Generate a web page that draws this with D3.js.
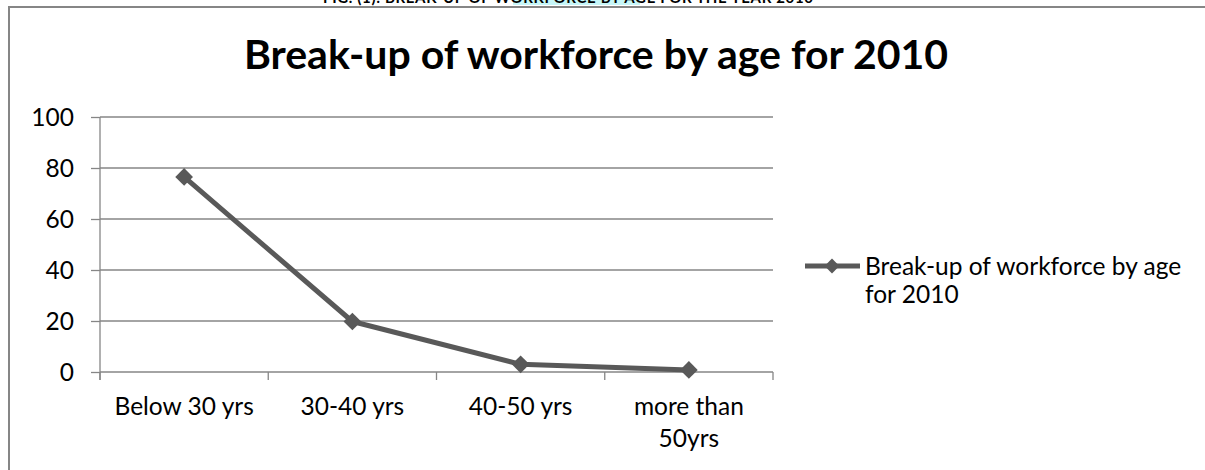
<!doctype html>
<html lang="en">
<head>
    <meta charset="utf-8">
    <title>Break-up of workforce by age for 2010</title>
    <script src="https://cdn.jsdelivr.net/npm/d3@7"></script>
    <style>
        body { margin: 0; background: #fff; }
        svg { display: block; font-family: Lato, "Open Sans", sans-serif; }
    </style>
</head>
<body>
    <svg></svg>
    <script>
        var width = 1205;
        var height = 470;

        // data
        var categories = ["Below 30 yrs", "30-40 yrs", "40-50 yrs", "more than 50yrs"];
        var categoryLines = [["Below 30 yrs"], ["30-40 yrs"], ["40-50 yrs"], ["more than", "50yrs"]];
        var values = [76.5, 19.8, 3, 0.8];
        var yTicks = [0, 20, 40, 60, 80, 100];
        var seriesName = "Break-up of workforce by age for 2010";
        var legendLines = ["Break-up of workforce by age", "for 2010"];

        var svg = d3.select("svg").attr("width", width).attr("height", height);

        // caption of the figure, mostly cut off above the picture
        svg.append("rect")
            .attr("x", 513).attr("y", -10)
            .attr("width", 127).attr("height", 15)
            .attr("fill", "#c6f6f8");
        svg.append("text")
            .attr("x", 323).attr("y", 3)
            .attr("font-size", "15px")
            .attr("font-weight", "bold")
            .attr("textLength", 490)
            .text("FIG. (1): BREAK-UP OF WORKFORCE BY AGE FOR THE YEAR 2010");

        // chart frame
        svg.append("rect")
            .attr("x", 9).attr("y", 7)
            .attr("width", 1300).attr("height", 600)
            .attr("fill", "none")
            .attr("stroke", "#868686")
            .attr("stroke-width", 2);

        svg.append("text")
            .attr("x", 596).attr("y", 69)
            .attr("text-anchor", "middle")
            .attr("font-size", "41px")
            .attr("font-weight", "bold")
            .text(seriesName);

        var xScale = d3.scaleBand().domain(categories).range([100, 773]);
        var yScale = d3.scaleLinear().domain([0, 100]).range([372, 117]);

        // gridlines
        svg.selectAll(".grid")
            .data(yTicks)
            .enter()
            .append("line")
            .attr("x1", 100).attr("x2", 773)
            .attr("y1", function (d) { return yScale(d); })
            .attr("y2", function (d) { return yScale(d); })
            .attr("stroke", "#868686")
            .attr("stroke-width", 1.3);

        // y axis
        var yAxis = d3.axisLeft(yScale).tickValues(yTicks).tickSize(9).tickPadding(17);
        var gy = svg.append("g").attr("transform", "translate(100,0)").call(yAxis);
        gy.select(".domain").remove();
        gy.append("line").attr("x1", 0).attr("x2", 0).attr("y1", 117).attr("y2", 380)
            .attr("stroke", "#868686").attr("stroke-width", 1.3);
        gy.selectAll(".tick line").attr("stroke", "#868686").attr("stroke-width", 1.3);
        gy.selectAll(".tick text")
            .attr("font-family", "Lato, sans-serif")
            .attr("font-size", "24.5px")
            .attr("fill", "#000")
            .attr("dy", "0.36em");

        // x axis ticks at band edges
        var edges = categories.map(function (c) { return xScale(c); }).concat([xScale.range()[1]]);
        svg.selectAll(".xtick")
            .data(edges)
            .enter()
            .append("line")
            .attr("x1", function (d) { return d; })
            .attr("x2", function (d) { return d; })
            .attr("y1", 372).attr("y2", 380)
            .attr("stroke", "#868686").attr("stroke-width", 1.3);

        var labels = svg.selectAll(".xlabel")
            .data(categories)
            .enter()
            .append("text")
            .attr("text-anchor", "middle")
            .attr("font-size", "24.5px")
            .attr("x", function (d) { return xScale(d) + xScale.bandwidth() / 2; })
            .attr("y", 415);
        labels.each(function (d, i) {
            var t = d3.select(this);
            categoryLines[i].forEach(function (line, j) {
                t.append("tspan")
                    .attr("x", xScale(d) + xScale.bandwidth() / 2)
                    .attr("dy", j === 0 ? 0 : 32)
                    .text(line);
            });
        });

        // series line
        var line = d3.line()
            .x(function (d, i) { return xScale(categories[i]) + xScale.bandwidth() / 2; })
            .y(function (d) { return yScale(d); });

        svg.append("path")
            .datum(values)
            .attr("d", line)
            .attr("fill", "none")
            .attr("stroke", "#595959")
            .attr("stroke-width", 5)
            .attr("stroke-linejoin", "round");

        var diamond = d3.symbol().type(d3.symbolDiamond2).size(200);
        svg.selectAll(".marker")
            .data(values)
            .enter()
            .append("path")
            .attr("d", diamond)
            .attr("transform", function (d, i) {
                return "translate(" + (xScale(categories[i]) + xScale.bandwidth() / 2) + "," + yScale(d) + ")";
            })
            .attr("fill", "#595959");

        // legend
        var legend = svg.append("g");
        legend.append("line")
            .attr("x1", 805).attr("x2", 860)
            .attr("y1", 266).attr("y2", 266)
            .attr("stroke", "#595959").attr("stroke-width", 5);
        legend.append("path")
            .attr("d", d3.symbol().type(d3.symbolDiamond2).size(140))
            .attr("transform", "translate(832,266)")
            .attr("fill", "#595959");
        legend.selectAll("text")
            .data(legendLines)
            .enter()
            .append("text")
            .attr("x", 865)
            .attr("y", function (d, i) { return 275 + i * 28; })
            .attr("font-size", "24.5px")
            .text(function (d) { return d; });
    </script>
</body>
</html>
